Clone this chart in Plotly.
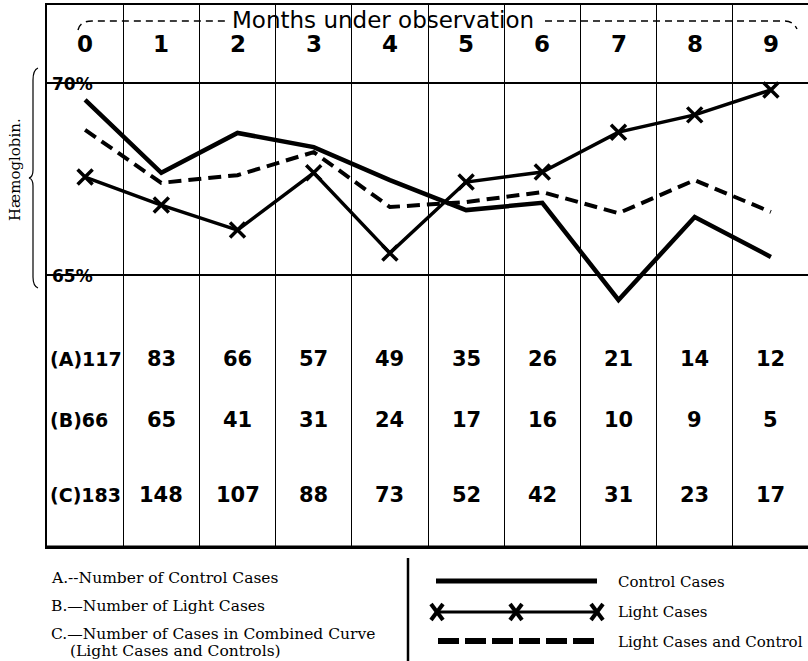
import plotly.graph_objects as go

# ---------------- data ----------------
months = [0, 1, 2, 3, 4, 5, 6, 7, 8, 9]
month_labels = ["0", "1", "2", "3", "4", "5", "6", "7", "8", "9"]
control = [69.56, 67.66, 68.70, 68.33, 67.47, 66.69, 66.88, 64.35, 66.51, 65.47]
light = [67.55, 66.82, 66.17, 67.66, 65.57, 67.42, 67.68, 68.72, 69.17, 69.82]
combined = [68.78, 67.40, 67.60, 68.20, 66.77, 66.90, 67.16, 66.61, 67.47, 66.64]
row_names = ["(A)", "(B)", "(C)"]
count_A = [117, 83, 66, 57, 49, 35, 26, 21, 14, 12]
count_B = [66, 65, 41, 31, 24, 17, 16, 10, 9, 5]
count_C = [183, 148, 107, 88, 73, 52, 42, 31, 23, 17]
y_ticks = [65, 70]
y_tick_labels = ["65%", "70%"]
legend_left = ["A.--Number of Control Cases",
               "B.—Number of Light Cases",
               "C.—Number of Cases in Combined Curve",
               "(Light Cases and Controls)"]
legend_right = ["Control Cases", "Light Cases", "Light Cases and Control"]

# ---------------- geometry helpers ----------------
W, H = 808, 661
L, R, T, B = 47, 0, 5, 114
PW = W - L - R
PH = H - T - B


def px(x):
    return (x - L) / PW


def py(y):
    return (H - B - y) / PH


HAND = "DejaVu Sans"
SERIF = "DejaVu Serif"

fig = go.Figure()

fig.add_trace(go.Scatter(x=months, y=control, mode="lines",
                         line=dict(color="black", width=4.5),
                         name="Control Cases", showlegend=False))
fig.add_trace(go.Scatter(x=months, y=combined, mode="lines",
                         line=dict(color="black", width=4, dash="13px,7px"),
                         name="Light Cases and Controls", showlegend=False))
fig.add_trace(go.Scatter(x=months, y=light, mode="lines+markers",
                         line=dict(color="black", width=3.5),
                         marker=dict(symbol="x-thin", size=15,
                                     line=dict(color="black", width=3.5)),
                         name="Light Cases", showlegend=False))

annotations = []
shapes = []


def note(x, y, text, size, family=HAND, xref="paper", yref="paper", xanchor="center",
         bold=False, **kw):
    f = dict(family=family, size=size, color="black")
    if bold:
        f["weight"] = "bold"
    d = dict(x=x, y=y, xref=xref, yref=yref, text=text, showarrow=False,
             xanchor=xanchor, yanchor="middle", font=f)
    d.update(kw)
    annotations.append(d)


# month numbers and header
for m, lab in zip(months, month_labels):
    note(m, py(44), lab, 23, xref="x", bold=True)
note(px(383), py(20), "Months under observation", 23)
shapes.append(dict(type="path", xref="paper", yref="paper",
                   path=f"M {px(78)} {py(30)} Q {px(80)} {py(21)} {px(92)} {py(21)} L {px(226)} {py(21)}",
                   line=dict(color="black", width=1.5, dash="7px,5px")))
shapes.append(dict(type="path", xref="paper", yref="paper",
                   path=f"M {px(545)} {py(21)} L {px(785)} {py(21)} Q {px(793)} {py(21)} {px(797)} {py(29)}",
                   line=dict(color="black", width=1.5, dash="7px,5px")))

# y tick labels (struck through by the grid lines)
for v, lab in zip(y_ticks, y_tick_labels):
    note(px(50), v, lab, 17, yref="y", xanchor="left", bold=True, yshift=-1)

# y axis title and bracket
note(px(15), py(170), "Hæmoglobin.", 15, family=SERIF, textangle=-90)
shapes.append(dict(type="path", xref="paper", yref="paper",
                   path=(f"M {px(38)} {py(68)} Q {px(33)} {py(70)} {px(33)} {py(80)} "
                         f"L {px(33)} {py(170)} Q {px(33)} {py(177)} {px(29)} {py(178)} "
                         f"Q {px(33)} {py(179)} {px(33)} {py(186)} L {px(33)} {py(277)} "
                         f"Q {px(33)} {py(286)} {px(38)} {py(288)}"),
                   line=dict(color="black", width=1.2)))

# table of case counts
row_y = [359, 420, 495]
for name, counts, yy in zip(row_names, [count_A, count_B, count_C], row_y):
    note(px(48), py(yy), f"{name}{counts[0]}", 19, xanchor="left", bold=True)
    for m, c in zip(months[1:], counts[1:]):
        note(m, py(yy), str(c), 21, xref="x", bold=True)

# bottom border (thick)
shapes.append(dict(type="line", xref="paper", yref="paper", x0=0, x1=1.01, y0=0, y1=0,
                   line=dict(color="black", width=3)))

# left legend text
for txt, yy in zip(legend_left, [578, 606, 634, 651]):
    xx = 49 if not txt.startswith("(") else 68
    note(px(xx), py(yy), txt, 15.5, family=SERIF, xanchor="left")

# divider
shapes.append(dict(type="line", xref="paper", yref="paper", x0=px(408), x1=px(408),
                   y0=py(558), y1=py(661), line=dict(color="black", width=2.5)))

# right legend samples
shapes.append(dict(type="line", xref="paper", yref="paper", x0=px(436), x1=px(597),
                   y0=py(581), y1=py(581), line=dict(color="black", width=5)))
shapes.append(dict(type="line", xref="paper", yref="paper", x0=px(437), x1=px(597),
                   y0=py(612), y1=py(612), line=dict(color="black", width=3)))
for cx in [437, 516, 597]:
    for dy in (-1, 1):
        shapes.append(dict(type="line", xref="paper", yref="paper",
                           x0=px(cx - 6), x1=px(cx + 6), y0=py(612 - 8 * dy), y1=py(612 + 8 * dy),
                           line=dict(color="black", width=4)))
shapes.append(dict(type="line", xref="paper", yref="paper", x0=px(438), x1=px(598),
                   y0=py(641), y1=py(641), line=dict(color="black", width=6, dash="21px,6px")))
for txt, yy in zip(legend_right, [582, 612, 642]):
    note(px(616), py(yy), txt, 15, family=SERIF, xanchor="left")

x_end = -0.5 + PW / 76.2
y_top = 70 + (83 - T) / 38.4
y_bot = 65 - (H - B - 275) / 38.4

fig.update_layout(
    width=W, height=H,
    margin=dict(l=L, r=R, t=T, b=B),
    paper_bgcolor="white", plot_bgcolor="white",
    showlegend=False,
    xaxis=dict(range=[-0.5, x_end], tickvals=[0.5, 1.5, 2.5, 3.5, 4.5, 5.5, 6.5, 7.5, 8.5],
               showticklabels=False, ticks="", showgrid=True, gridcolor="black", gridwidth=1.4,
               zeroline=False, showline=True, linecolor="black", linewidth=2, mirror=True,
               fixedrange=True),
    yaxis=dict(range=[y_bot, y_top], tickvals=y_ticks, showticklabels=False, ticks="",
               showgrid=True, gridcolor="black", gridwidth=1.5, zeroline=False,
               showline=True, linecolor="black", linewidth=2, mirror=False, fixedrange=True),
    annotations=annotations,
    shapes=shapes,
)

fig.write_html("out.html", config={"displayModeBar": False},
               post_script="document.body.style.margin='0px';document.body.style.overflow='hidden';")
